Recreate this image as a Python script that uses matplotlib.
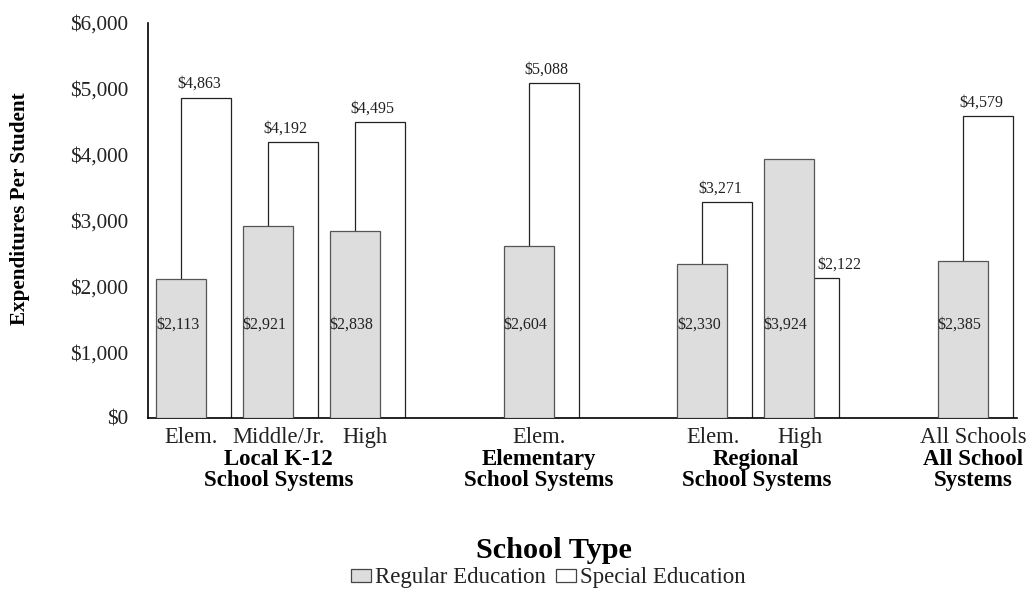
import matplotlib
matplotlib.use("Agg")
import matplotlib.pyplot as plt
from matplotlib.patches import Patch
from matplotlib.ticker import FuncFormatter

plt.rcParams['font.family'] = ['Liberation Serif', 'DejaVu Serif']

# School system groups and the school levels within each
groups = ["Local K-12\nSchool Systems", "Elementary\nSchool Systems",
          "Regional\nSchool Systems", "All School\nSystems"]
levels = [["Elem.", "Middle/Jr.", "High"], ["Elem."], ["Elem.", "High"], ["All Schools"]]

# Expenditures per student, in dollars
regular = [2113, 2921, 2838, 2604, 2330, 3924, 2385]
special = [4863, 4192, 4495, 5088, 3271, 2122, 4579]

yticks = [0, 1000, 2000, 3000, 4000, 5000, 6000]

# one slot per school level, with an empty slot between groups
slots, group_centers, tick_labels = [], [], []
pos = 0
for i, lv in enumerate(levels):
    if i > 0:
        pos += 1
    start = pos
    for name in lv:
        slots.append(pos)
        tick_labels.append(name)
        pos += 1
    group_centers.append((start + pos) / 2)
n_slots = pos

fig = plt.figure(figsize=(10.34, 6.01), dpi=100)
ax = fig.add_axes([148 / 1034, 1 - 418 / 601, 869 / 1034, (418 - 22.6) / 601])

bw = 0.575
off_reg = 0.092
off_spec = off_reg + 0.287

reg_x = [s + off_reg for s in slots]
spec_x = [s + off_spec for s in slots]

ax.bar(spec_x, special, width=bw, align='edge', color='white',
       edgecolor='#222222', linewidth=0.9, zorder=2)
ax.bar(reg_x, regular, width=bw, align='edge', color='#dddddd',
       edgecolor='#555555', linewidth=0.9, zorder=3)

xt = ax.get_xaxis_transform()

for x, v in zip(reg_x, regular):
    ax.text(x + bw / 2 - 0.04, 0.235, f"${v:,}", transform=xt, ha='center',
            va='center', fontsize=11.5, color='#222222', zorder=4)

for x, v, r in zip(spec_x, special, regular):
    cx = x + bw / 2 - 0.08
    if r > v:
        cx = x + bw
    ax.annotate(f"${v:,}", (cx, v), xytext=(0, 4), textcoords='offset points',
                ha='center', va='bottom', fontsize=11.5, color='#222222')

ax.set_xlim(0, n_slots)
ax.set_ylim(0, 6000)
ax.set_yticks(yticks)
ax.yaxis.set_major_formatter(FuncFormatter(lambda v, p: f"${v:,.0f}"))
ax.tick_params(axis='y', length=0, pad=14, labelsize=15.3, labelcolor='#222222')
ax.set_xticks([])

for sp in ['top', 'right']:
    ax.spines[sp].set_visible(False)
for sp in ['left', 'bottom']:
    ax.spines[sp].set_linewidth(1.2)
    ax.spines[sp].set_color('black')

for s, name in zip(slots, tick_labels):
    ax.text(s + 0.5, -0.0505, name, transform=xt, ha='center', va='center',
            fontsize=16.3, color='#222222')

for c, g in zip(group_centers, groups):
    ax.text(c, -0.131, g, transform=xt, ha='center', va='center',
            fontsize=16.5, fontweight='bold', linespacing=1.02, color='black')

fig.text(20 / 1034, 1 - 209 / 601, "Expenditures Per Student", rotation=90,
         ha='center', va='center', fontsize=15.2, fontweight='bold')

fig.text(554 / 1034, 1 - 550 / 601, "School Type", ha='center', va='center',
         fontsize=21.8, fontweight='bold')

handles = [Patch(facecolor='#dddddd', edgecolor='#444444', linewidth=0.9),
           Patch(facecolor='white', edgecolor='#444444', linewidth=0.9)]
fig.legend(handles, ["Regular Education", "Special Education"], loc='center',
           bbox_to_anchor=(548 / 1034, 1 - 578 / 601), ncol=2, frameon=False,
           fontsize=16.5, handlelength=0.9, handleheight=0.5,
           handletextpad=0.15, columnspacing=0.45, borderpad=0,
           labelcolor='#222222')

fig.savefig("out.png", dpi=100)
